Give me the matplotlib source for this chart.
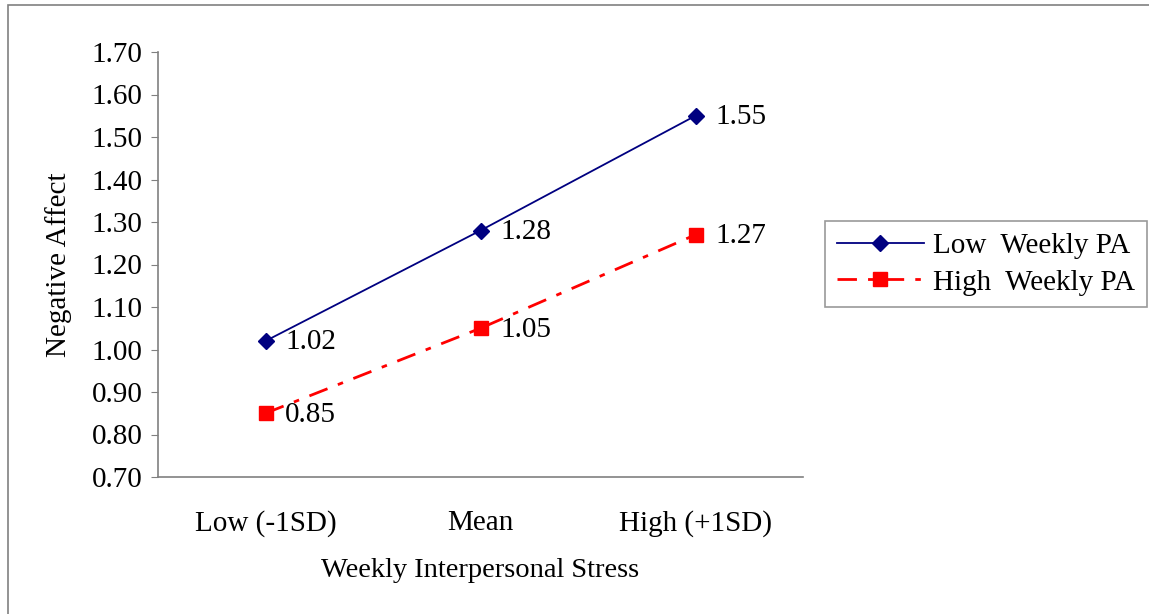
import matplotlib.pyplot as plt
from matplotlib.patches import Rectangle

plt.rcParams['font.family'] = ['Liberation Serif', 'DejaVu Serif']

# data
categories = ['Low (-1SD)', 'Mean', 'High (+1SD)']
low_pa = [1.02, 1.28, 1.55]
high_pa = [0.85, 1.05, 1.27]
yticks = [0.70, 0.80, 0.90, 1.00, 1.10, 1.20, 1.30, 1.40, 1.50, 1.60, 1.70]

fs = 21

fig = plt.figure(figsize=(11.49, 6.14), dpi=100)
# outer chart border
fig.patches.append(Rectangle((8/1149, -0.01), 1.1, 1 - 5/614 + 0.01, transform=fig.transFigure,
                             fill=False, edgecolor='#808080', linewidth=1.2))

ax = fig.add_axes([158/1149, 1 - 477/614, 645/1149, 425/614])
x = range(len(categories))
ax.plot(x, low_pa, color='#000080', linewidth=1.3, marker='D', markersize=8,
        label='Low  Weekly PA')
ax.plot(x, high_pa, color='#ff0000', linewidth=2, marker='s', markersize=10,
        dashes=(7, 4, 2, 4), label='High  Weekly PA')

for i, v in enumerate(low_pa):
    ax.annotate(f'{v:.2f}', (i, v), xytext=(14, -1), textcoords='offset points',
                va='center', ha='left', fontsize=fs)
for i, v in enumerate(high_pa):
    ax.annotate(f'{v:.2f}', (i, v), xytext=(14, -1), textcoords='offset points',
                va='center', ha='left', fontsize=fs)

ax.set_xlim(-0.5, 2.5)
ax.set_ylim(0.70, 1.70)
ax.set_xticks(list(x))
ax.set_xticklabels(categories, fontsize=fs)
ax.set_yticks(yticks)
ax.set_yticklabels([f'{t:.2f}' for t in yticks], fontsize=fs)
ax.tick_params(axis='x', length=0, pad=24)
ax.tick_params(axis='y', length=5, color='#808080', pad=6)
for s in ['top', 'right']:
    ax.spines[s].set_visible(False)
for s in ['left', 'bottom']:
    ax.spines[s].set_color('#808080')
    ax.spines[s].set_linewidth(1.2)

ax.set_xlabel('Weekly Interpersonal Stress', fontsize=20.5, labelpad=15)
ax.set_ylabel('Negative Affect', fontsize=fs, labelpad=14)

leg = ax.legend(loc='center left', bbox_to_anchor=((825 - 158)/645, (477 - 264)/425), fontsize=fs,
                frameon=True, fancybox=False, edgecolor='#808080', handlelength=3.0,
                borderpad=0.4, labelspacing=0.35, handletextpad=0.3, borderaxespad=0)
leg.get_frame().set_linewidth(1.2)

fig.savefig('out.png', dpi=100)
